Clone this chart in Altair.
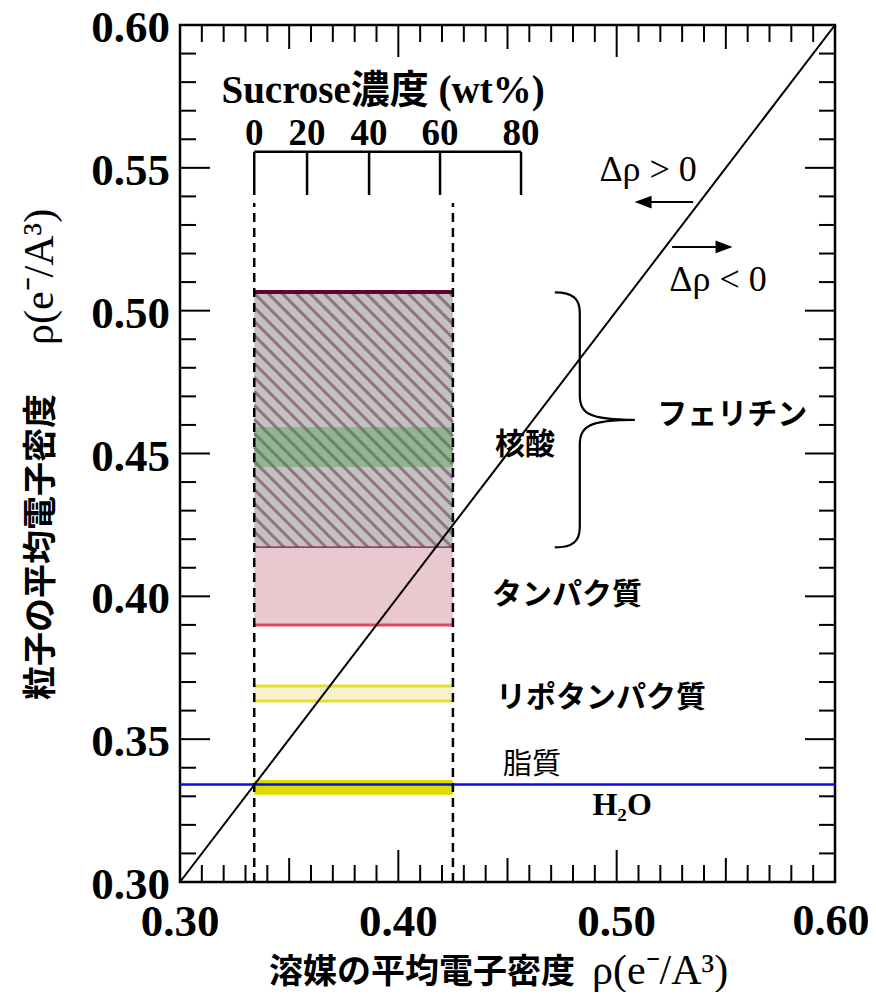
import altair as alt
import pandas as pd

# ---------------- data ----------------
x_domain = [0.30, 0.60]
y_domain = [0.30, 0.60]
y_label_values = [0.30, 0.35, 0.40, 0.45, 0.50, 0.55, 0.60]
x_label_values = [0.30, 0.40, 0.50]
x_label_last = [0.60]

# inward tick positions
tick_minor = [0.31, 0.32, 0.33, 0.34, 0.36, 0.37, 0.38, 0.39,
              0.41, 0.42, 0.43, 0.44, 0.46, 0.47, 0.48, 0.49,
              0.51, 0.52, 0.53, 0.54, 0.56, 0.57, 0.58, 0.59]
y_tick_major = [0.35, 0.40, 0.45, 0.50, 0.55]
x_tick_mid = [0.35, 0.45, 0.55]
x_tick_major = [0.40, 0.50]

# particle density bands (rho of particle)
band_names = ["核酸", "フェリチン", "タンパク質", "リポタンパク質", "脂質"]
band_low = [0.417, 0.4453, 0.390, 0.3634, 0.3305]
band_high = [0.5065, 0.4593, 0.417, 0.3686, 0.3357]

# solvent range (water -> max sucrose)
solvent_min = 0.334
solvent_max = 0.425
dashed_top = 0.5377
water_rho = 0.3341

# sucrose concentration scale
sucrose_wt = [0, 20, 40, 60, 80]
sucrose_rho = [0.334, 0.3582, 0.3866, 0.4191, 0.4562]
sucrose_line_y = 0.5556
sucrose_tick_bottom = 0.5405
sucrose_label_y = 0.5620

diag = [0.30, 0.60]

W, H = 655, 857
XS = alt.Scale(domain=x_domain, nice=False, zero=False)
YS = alt.Scale(domain=y_domain, nice=False, zero=False)

SERIF = "Liberation Serif"
CJK = "Noto Sans CJK JP"


def X(f="x"):
    return alt.X(f"{f}:Q", scale=XS, axis=None)


def Y(f="y"):
    return alt.Y(f"{f}:Q", scale=YS, axis=None)


layers = []


def band_rect(i, color, opacity=1.0):
    df = pd.DataFrame({"x": [solvent_min], "x2": [solvent_max],
                       "y": [band_low[i]], "y2": [band_high[i]]})
    return alt.Chart(df).mark_rect(color=color, opacity=opacity).encode(
        x=X(), x2="x2:Q", y=Y(), y2="y2:Q")


def hline(yv, color, width, x0=solvent_min, x1=solvent_max, dash=None):
    df = pd.DataFrame({"x": [x0], "x2": [x1], "y": [yv]})
    kw = dict(color=color, strokeWidth=width)
    if dash:
        kw["strokeDash"] = dash
    return alt.Chart(df).mark_rule(**kw).encode(x=X(), x2="x2:Q", y=Y())


# nucleic acid band (grey, hatched)
layers.append(band_rect(0, "#c3c2c2"))


def px(v):
    return (v - x_domain[0]) / (x_domain[1] - x_domain[0]) * W


def py(v):
    return (y_domain[1] - v) / (y_domain[1] - y_domain[0]) * H


def dx(p):
    return x_domain[0] + p / W * (x_domain[1] - x_domain[0])


def dy(p):
    return y_domain[1] - p / H * (y_domain[1] - y_domain[0])


# hatch texture for the nucleic acid band
x0p, x1p = px(solvent_min), px(solvent_max)
y0p, y1p = py(band_high[0]), py(band_low[0])
segs = []
c = y0p - x1p + 4
while c < y1p - x0p:
    xa = max(x0p, y0p - c)
    xb = min(x1p, y1p - c)
    if xb > xa:
        segs.append({"x": dx(xa), "y": dy(xa + c), "x2": dx(xb), "y2": dy(xb + c)})
    c += 14
layers.append(alt.Chart(pd.DataFrame(segs)).mark_rule(color="#8a6676", strokeWidth=3, opacity=0.85).encode(
    x=X(), y=Y(), x2="x2:Q", y2="y2:Q"))

# ferritin iron core (green)
layers.append(band_rect(1, "#3a9a3a", 0.36))
layers.append(hline(band_high[0], "#5a0630", 4))
layers.append(hline(band_low[0], "#7a1646", 2.5))

# protein (pink)
layers.append(band_rect(2, "#e9c8d0"))
layers.append(hline(band_low[2], "#e0485f", 3))

# lipoprotein (pale yellow)
layers.append(band_rect(3, "#f6f3cc"))
layers.append(hline(band_low[3], "#e6dc38", 3))
layers.append(hline(band_high[3], "#e6dc38", 3))

# lipid (yellow)
layers.append(band_rect(4, "#dcdc00"))

# water line
layers.append(hline(water_rho, "#0a0ae8", 2.5, x0=x_domain[0], x1=x_domain[1]))

# diagonal rho_particle = rho_solvent
layers.append(alt.Chart(pd.DataFrame({"x": [diag[0]], "y": [diag[0]], "x2": [diag[1]], "y2": [diag[1]]}))
              .mark_rule(color="black", strokeWidth=2).encode(x=X(), y=Y(), x2="x2:Q", y2="y2:Q"))

# dashed verticals
layers.append(alt.Chart(pd.DataFrame({"x": [solvent_min, solvent_max], "y": [y_domain[0]] * 2,
                                      "y2": [dashed_top] * 2}))
              .mark_rule(color="black", strokeWidth=2.5, strokeDash=[9, 6]).encode(x=X(), y=Y(), y2="y2:Q"))

# sucrose scale
layers.append(hline(sucrose_line_y, "black", 2.5, x0=sucrose_rho[0], x1=sucrose_rho[-1]))
layers.append(alt.Chart(pd.DataFrame({"x": sucrose_rho, "y": [sucrose_line_y] * 5,
                                      "y2": [sucrose_tick_bottom] * 5}))
              .mark_rule(color="black", strokeWidth=2.5).encode(x=X(), y=Y(), y2="y2:Q"))
layers.append(alt.Chart(pd.DataFrame({"x": sucrose_rho, "y": [sucrose_label_y] * 5,
                                      "t": [str(v) for v in sucrose_wt]}))
              .mark_text(font=SERIF, fontWeight="bold", fontSize=37, color="black")
              .encode(x=X(), y=Y(), text="t:N"))


def text_at(t, x, y, font, size, weight="normal", align="center"):
    return alt.Chart(pd.DataFrame({"x": [x], "y": [y], "t": [t]})).mark_text(
        font=font, fontSize=size, fontWeight=weight, align=align, color="black"
    ).encode(x=X(), y=Y(), text="t:N")


layers.append(text_at("Sucrose濃度 (wt%)", 0.393, 0.5770, SERIF + ", " + CJK, 39, "bold"))

# annotations
layers.append(text_at("フェリチン", 0.5529, 0.4635, CJK, 30, "bold"))
layers.append(text_at(band_names[0], 0.4580, 0.4530, CJK, 30, "bold"))
layers.append(text_at(band_names[2], 0.4773, 0.4005, CJK, 30, "bold"))
layers.append(text_at(band_names[3], 0.4928, 0.3644, CJK, 30, "bold"))
layers.append(text_at(band_names[4], 0.4612, 0.3410, CJK, 29, "normal"))
layers.append(text_at("H₂O", 0.5025, 0.3270, SERIF, 32, "bold"))
layers.append(text_at("Δρ > 0", 0.5144, 0.5492, SERIF, 36))
layers.append(text_at("Δρ < 0", 0.5464, 0.5107, SERIF, 36))

# arrows
layers.append(alt.Chart(pd.DataFrame({"x": [0.5350, 0.5254], "x2": [0.5125, 0.5480], "y": [0.5380, 0.5223]}))
              .mark_rule(color="black", strokeWidth=2).encode(x=X(), x2="x2:Q", y=Y()))
layers.append(alt.Chart(pd.DataFrame({"x": [0.5121], "y": [0.5380]})).mark_point(
    shape="M -1 0 L 1 -0.75 L 1 0.75 Z", size=289, filled=True, color="black", opacity=1
).encode(x=X(), y=Y()))
layers.append(alt.Chart(pd.DataFrame({"x": [0.5492], "y": [0.5223]})).mark_point(
    shape="M 1 0 L -1 -0.75 L -1 0.75 Z", size=289, filled=True, color="black", opacity=1
).encode(x=X(), y=Y()))

# curly brace spanning the ferritin range
brace_path = ("M -0.314 -1 C -0.17 -1 -0.118 -0.95 -0.118 -0.84 L -0.118 -0.2 "
              "C -0.118 -0.05 -0.05 0 0.314 0 C -0.05 0 -0.118 0.05 -0.118 0.2 "
              "L -0.118 0.84 C -0.118 0.95 -0.17 1 -0.314 1")
layers.append(alt.Chart(pd.DataFrame({"x": [0.490], "y": [(band_low[0] + band_high[0]) / 2]})).mark_point(
    shape=brace_path, size=255 * 255, filled=False, color="black", strokeWidth=2.2, opacity=1
).encode(x=X(), y=Y()))


# inward ticks
def yticks(vals, length):
    df = pd.DataFrame({"y": vals})
    left = alt.Chart(df).mark_rule(color="black", strokeWidth=2).encode(
        y=Y(), x=alt.value(0), x2=alt.value(length))
    right = alt.Chart(df).mark_rule(color="black", strokeWidth=2).encode(
        y=Y(), x=alt.value(W - length), x2=alt.value(W))
    return [left, right]


def xticks(vals, length):
    df = pd.DataFrame({"x": vals})
    bottom = alt.Chart(df).mark_rule(color="black", strokeWidth=2).encode(
        x=X(), y=alt.value(H - length), y2=alt.value(H))
    top = alt.Chart(df).mark_rule(color="black", strokeWidth=2).encode(
        x=X(), y=alt.value(0), y2=alt.value(length))
    return [bottom, top]


layers += yticks(tick_minor, 16)
layers += yticks(y_tick_major, 30)
layers += xticks(tick_minor, 17)
layers += xticks(x_tick_mid, 24)
layers += xticks(x_tick_major, 32)

# tick labels
layers.append(alt.Chart(pd.DataFrame({"y": y_label_values, "t": [f"{v:.2f}" for v in y_label_values]}))
              .mark_text(font=SERIF, fontWeight="bold", fontSize=45, align="right", baseline="middle",
                         color="black", dy=3)
              .encode(y=Y(), x=alt.value(-10), text="t:N"))
layers.append(alt.Chart(pd.DataFrame({"x": x_label_values, "t": [f"{v:.2f}" for v in x_label_values]}))
              .mark_text(font=SERIF, fontWeight="bold", fontSize=45, align="center", baseline="middle",
                         color="black")
              .encode(x=X(), y=alt.value(H + 40), text="t:N"))
layers.append(alt.Chart(pd.DataFrame({"x": x_label_last, "t": [f"{v:.2f}" for v in x_label_last]}))
              .mark_text(font=SERIF, fontWeight="bold", fontSize=44, align="center", baseline="middle",
                         color="black", dx=-4)
              .encode(x=X(), y=alt.value(H + 40), text="t:N"))


# axis titles (mixed fonts)
def ptext(t, x, y, font, size, weight="normal", align="center", angle=0):
    return alt.Chart(pd.DataFrame({"t": [t]})).mark_text(
        font=font, fontSize=size, fontWeight=weight, align=align, angle=angle,
        baseline="middle", color="black"
    ).encode(x=alt.value(x), y=alt.value(y), text="t:N")


layers.append(ptext("溶媒の平均電子密度", 395, 948, CJK, 34, "bold", "right"))
layers.append(ptext("ρ(e⁻/A³)", 412, 946, SERIF, 42, "normal", "left"))
layers.append(ptext("粒子の平均電子密度", -138, 675, CJK, 34, "bold", "left", 270))
layers.append(ptext("ρ(e⁻/A³)", -140, 320, SERIF, 42, "normal", "left", 270))

chart = alt.layer(*layers).properties(
    width=W, height=H,
    autosize=alt.AutoSizeParams(type="none"),
    padding={"left": 172, "top": 17, "right": 33, "bottom": 110},
    background="white",
).configure_view(stroke="black", strokeWidth=2.5)

chart.save("out.html", embed_options={"renderer": "svg", "actions": False})
